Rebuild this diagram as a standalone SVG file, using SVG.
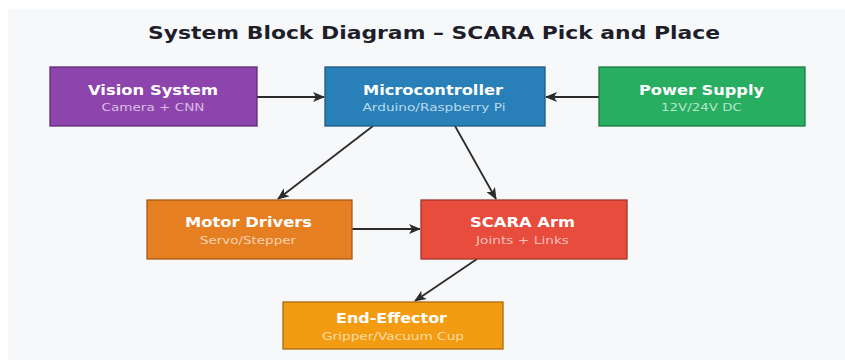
<svg xmlns="http://www.w3.org/2000/svg" width="845" height="361" viewBox="0 0 845 361">
  <defs>
    <marker id="arrow" viewBox="0 0 12 10" refX="11" refY="5" markerWidth="12" markerHeight="10" markerUnits="userSpaceOnUse" orient="auto">
      <path d="M0,0 L12,5 L0,10 L3,5 Z" fill="#2b2b2b"/>
    </marker>
    <style>
      .title { font-family: "DejaVu Sans", "Liberation Sans", sans-serif; font-weight: bold; font-size: 17.5px; fill: #1e1e2a; text-anchor: middle; }
      .box { stroke-width: 1.3; }
      .name { font-family: "DejaVu Sans", "Liberation Sans", sans-serif; font-weight: bold; font-size: 14.5px; fill: #ffffff; text-anchor: middle; }
      .sub { font-family: "DejaVu Sans", "Liberation Sans", sans-serif; font-size: 11px; text-anchor: middle; fill-opacity: 0.85; }
      .link { stroke: #2b2b2b; stroke-width: 1.8; fill: none; marker-end: url(#arrow); }
    </style>
  </defs>

  <rect x="0" y="0" width="845" height="361" fill="#ffffff"/>
  <rect x="8" y="9" width="837" height="351" fill="#f7f8fa"/>

  <text class="title" x="434" y="39" textLength="572" lengthAdjust="spacingAndGlyphs">System Block Diagram – SCARA Pick and Place</text>

  <g id="connectors">
    <line class="link" x1="257" y1="97" x2="324" y2="97"/>
    <line class="link" x1="599" y1="97" x2="546" y2="97"/>
    <line class="link" x1="373" y1="126" x2="278" y2="199"/>
    <line class="link" x1="455" y1="126" x2="496" y2="199"/>
    <line class="link" x1="352" y1="229" x2="420" y2="229"/>
    <line class="link" x1="477" y1="259" x2="415" y2="301"/>
  </g>

  <g id="vision">
    <rect class="box" x="50" y="67" width="207" height="59" fill="#8e44ad" stroke="#5e2d73"/>
    <text class="name" x="153" y="95" textLength="130" lengthAdjust="spacingAndGlyphs">Vision System</text>
    <text class="sub" x="153" y="111" fill="#e8d4f2" textLength="103" lengthAdjust="spacingAndGlyphs">Camera + CNN</text>
  </g>

  <g id="microcontroller">
    <rect class="box" x="325" y="67" width="220" height="59" fill="#2980b9" stroke="#1c5a82"/>
    <text class="name" x="433" y="95" textLength="140" lengthAdjust="spacingAndGlyphs">Microcontroller</text>
    <text class="sub" x="434" y="111" fill="#d6e9f7" textLength="143" lengthAdjust="spacingAndGlyphs">Arduino/Raspberry Pi</text>
  </g>

  <g id="power">
    <rect class="box" x="599" y="67" width="206" height="59" fill="#27ae60" stroke="#1b7a43"/>
    <text class="name" x="701.5" y="95" textLength="125" lengthAdjust="spacingAndGlyphs">Power Supply</text>
    <text class="sub" x="701.5" y="111" fill="#d4f2e0" textLength="81" lengthAdjust="spacingAndGlyphs">12V/24V DC</text>
  </g>

  <g id="motor-drivers">
    <rect class="box" x="147" y="200" width="205" height="59" fill="#e67e22" stroke="#a65a16"/>
    <text class="name" x="248.5" y="227" textLength="127" lengthAdjust="spacingAndGlyphs">Motor Drivers</text>
    <text class="sub" x="248" y="244" fill="#fbe3cc" textLength="96" lengthAdjust="spacingAndGlyphs">Servo/Stepper</text>
  </g>

  <g id="scara-arm">
    <rect class="box" x="421" y="200" width="206" height="59" fill="#e74c3c" stroke="#a3352a"/>
    <text class="name" x="522.5" y="227" textLength="105" lengthAdjust="spacingAndGlyphs">SCARA Arm</text>
    <text class="sub" x="522.5" y="244" fill="#fad6d2" textLength="93" lengthAdjust="spacingAndGlyphs">Joints + Links</text>
  </g>

  <g id="end-effector">
    <rect class="box" x="283" y="302" width="220" height="47" fill="#f39c12" stroke="#a86c0d"/>
    <text class="name" x="391.5" y="323" textLength="111" lengthAdjust="spacingAndGlyphs">End-Effector</text>
    <text class="sub" x="393" y="340" fill="#fde7c2" textLength="142" lengthAdjust="spacingAndGlyphs">Gripper/Vacuum Cup</text>
  </g>
</svg>
